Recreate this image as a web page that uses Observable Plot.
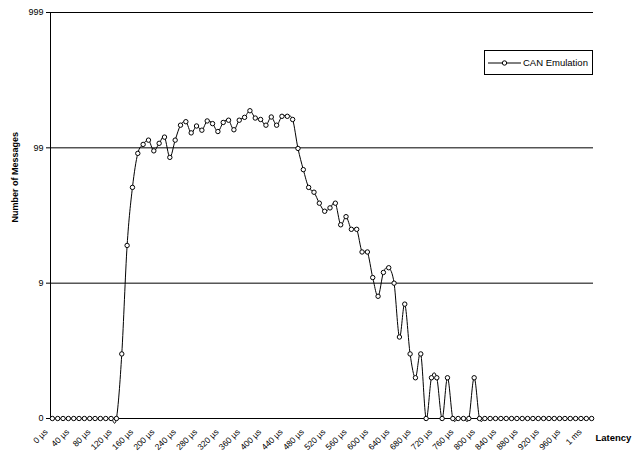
<!DOCTYPE html>
<html>
<head>
<meta charset="utf-8">
<script src="https://cdn.jsdelivr.net/npm/d3@7"></script>
<script src="https://cdn.jsdelivr.net/npm/@observablehq/plot@0.6"></script>
<style>
  html, body { margin: 0; padding: 0; background: #fff; }
  body { font-family: "Liberation Sans", Arial, sans-serif; }
  #wrap { position: relative; width: 639px; height: 452px; overflow: hidden; }
  #legend {
    position: absolute; left: 484px; top: 50px; width: 107px; height: 23px;
    border: 1px solid #000; background: #fff; display: flex; align-items: center;
    font-size: 9.5px; color: #000; white-space: nowrap;
  }
  #legend svg { margin-left: 3px; margin-right: 2px; }
</style>
</head>
<body>
<div id="wrap">
  <div id="chart"></div>
  <div id="legend">
    <svg width="33" height="10"><line x1="0" y1="5" x2="33" y2="5" stroke="#000" stroke-width="1"/><circle cx="16.5" cy="5" r="2.2" fill="#fff" stroke="#000" stroke-width="1"/></svg>
    <span id="seriesName"></span>
  </div>
</div>
<script>
// Categories (latency bins)
const categories = [
  "0 µs","10 µs","20 µs","30 µs","40 µs","50 µs","60 µs","70 µs","80 µs","90 µs",
  "100 µs","110 µs","120 µs","130 µs","140 µs","150 µs","160 µs","170 µs","180 µs","190 µs",
  "200 µs","210 µs","220 µs","230 µs","240 µs","250 µs","260 µs","270 µs","280 µs","290 µs",
  "300 µs","310 µs","320 µs","330 µs","340 µs","350 µs","360 µs","370 µs","380 µs","390 µs",
  "400 µs","410 µs","420 µs","430 µs","440 µs","450 µs","460 µs","470 µs","480 µs","490 µs",
  "500 µs","510 µs","520 µs","530 µs","540 µs","550 µs","560 µs","570 µs","580 µs","590 µs",
  "600 µs","610 µs","620 µs","630 µs","640 µs","650 µs","660 µs","670 µs","680 µs","690 µs",
  "700 µs","710 µs","720 µs","730 µs","740 µs","750 µs","760 µs","770 µs","780 µs","790 µs",
  "800 µs","810 µs","820 µs","830 µs","840 µs","850 µs","860 µs","870 µs","880 µs","890 µs",
  "900 µs","910 µs","920 µs","930 µs","940 µs","950 µs","960 µs","970 µs","980 µs","990 µs",
  "1 ms","1010 µs"
];

// Series values (number of messages per bin)
const seriesName = "CAN Emulation";
const counts = [
  0,0,0,0,0,0,0,0,0,0,
  0,0,0,2,18,50,90,105,113,94,
  107,119,84,113,146,155,128,144,134,157,
  150,131,153,159,135,159,167,187,165,161,
  146,168,146,170,170,161,98,68,50,46,
  38,33,35,38,26,30,24,24,16,16,
  10,7,11,12,9,3,6,2,1,2,
  0,1,1,0,1,0,0,0,0,1,
  0,0,0,0,0,0,0,0,0,0,
  0,0,0,0,0,0,0,0,0,0,
  0,0
];

// Tick labels
const xTickLabels = [
  "0 µs","40 µs","80 µs","120 µs","160 µs","200 µs","240 µs","280 µs","320 µs","360 µs",
  "400 µs","440 µs","480 µs","520 µs","560 µs","600 µs","640 µs","680 µs","720 µs","760 µs",
  "800 µs","840 µs","880 µs","920 µs","960 µs","1 ms"
];
const yTicks = [0, 9, 99, 999];
const yTitle = "Number of Messages";
const xTitle = "Latency";

document.getElementById("seriesName").textContent = seriesName;

const data = categories.map((c, i) => ({category: c, count: counts[i]}));
const font = '"Liberation Sans", Arial, sans-serif';

const chart = Plot.plot({
  width: 639,
  height: 452,
  marginLeft: 50,
  marginRight: 46,
  marginTop: 12,
  marginBottom: 34,
  style: {fontFamily: font, fontSize: "9px", color: "#000", background: "#fff", overflow: "visible"},
  x: {type: "point", domain: categories, padding: 0.35},
  y: {type: "symlog", constant: 1, domain: [0, 999]},
  marks: [
    Plot.ruleY(yTicks, {stroke: "#000", strokeWidth: 1, strokeOpacity: 1}),
    Plot.frame({anchor: "left", stroke: "#000", strokeOpacity: 1}),
    Plot.axisY({ticks: yTicks, tickSize: 4, tickPadding: 3, tickFormat: d => String(d), label: null, fontSize: 9, strokeOpacity: 1}),
    Plot.axisX({ticks: xTickLabels, tickRotate: -45, tickSize: 0, tickPadding: 12, dx: -6, label: null, fontSize: 8.5}),
    Plot.line(data, {x: "category", y: "count", curve: "cardinal", stroke: "#000", strokeWidth: 1}),
    Plot.dot(data, {x: "category", y: "count", r: 2.2, fill: "#fff", stroke: "#000", strokeWidth: 1}),
    Plot.text([yTitle], {frameAnchor: "left", rotate: -90, dx: -35, dy: 7, fontWeight: "bold", fontSize: 9, fill: "#000"}),
    Plot.text([xTitle], {frameAnchor: "bottom-right", textAnchor: "start", dx: 2, dy: 22, fontWeight: "bold", fontSize: 9.5, fill: "#000"})
  ]
});
document.getElementById("chart").appendChild(chart);
</script>
</body>
</html>
